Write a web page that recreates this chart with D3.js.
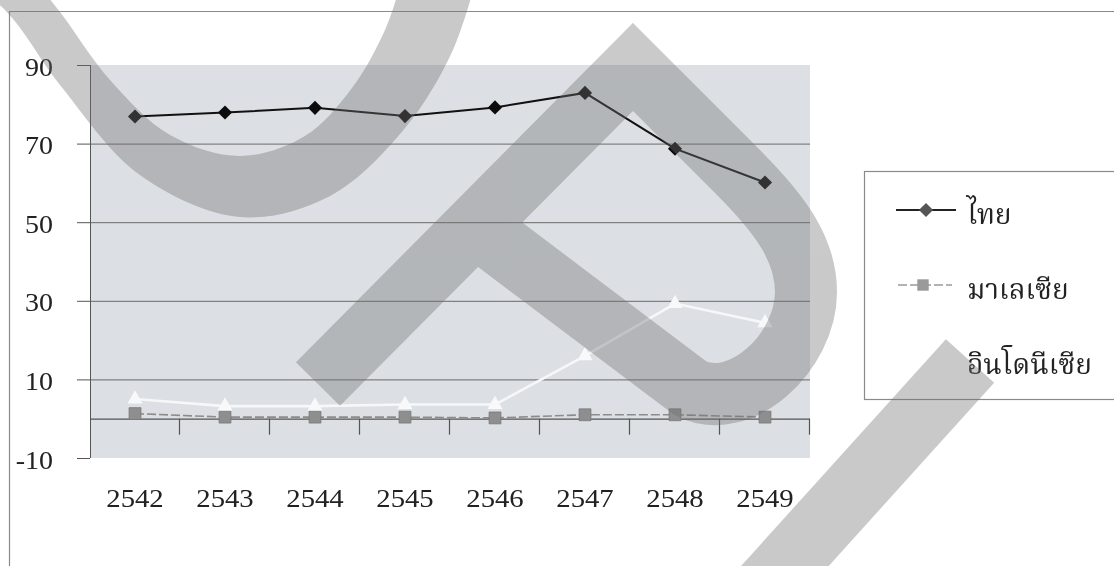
<!DOCTYPE html>
<html>
<head>
<meta charset="utf-8">
<script src="https://cdn.jsdelivr.net/npm/d3@7"></script>
<style>
  html, body { margin: 0; padding: 0; background: #fff; }
  svg { display: block; }
</style>
</head>
<body>
<svg id="chart" width="1114" height="566"></svg>
<script>
// Years (Buddhist era) on the category axis
const years = ["2542", "2543", "2544", "2545", "2546", "2547", "2548", "2549"];
// Series values
const thailand  = [76.9, 77.9, 79.1, 77.0, 79.2, 82.9, 68.7, 60.1];
const malaysia  = [1.3, 0.4, 0.4, 0.4, 0.2, 1.0, 1.0, 0.4];
const indonesia = [5.0, 3.2, 3.2, 3.6, 3.6, 16.0, 29.3, 24.4];
// Series names for the legend
const seriesNames = ["ไทย", "มาเลเซีย", "อินโดนีเซีย"];
// Value-axis tick labels
const yTicks = [-10, 10, 30, 50, 70, 90];
const gridTicks = [10, 30, 50, 70];

const NUM_FONT = '"Liberation Serif", Tinos, "Times New Roman", Times, "DejaVu Serif", "Noto Serif", serif';

// pick the first installed Thai face, preferring looped serif designs
function pickThaiFont() {
  const candidates = ["Norasi", "Kinnari", "Laksaman", "TH Sarabun New", "Angsana New", "Noto Serif Thai",
                      "Tlwg Typo", "Umpush", "Waree", "Loma", "Garuda", "Noto Sans Thai"];
  const ctx = document.createElement("canvas").getContext("2d");
  const sample = "อินโดนีเซีย มาเลเซีย ไทย";
  const widthWith = f => { ctx.font = "40px " + f; return ctx.measureText(sample).width; };
  const baseM = widthWith("monospace"), baseS = widthWith("serif");
  for (const c of candidates) {
    if (widthWith(`"${c}", monospace`) !== baseM || widthWith(`"${c}", serif`) !== baseS) return `"${c}", serif`;
  }
  return "serif";
}
const THAI_FONT = pickThaiFont();

const svg = d3.select("#chart");
const W = 1114, H = 566;

const x = d3.scaleBand().domain(years).range([90, 810]).padding(0);
const y = d3.scaleLinear().domain([-10, 90]).range([458, 65]);
const cx = d => x(d) + x.bandwidth() / 2;

// outer chart frame (left and top edges)
svg.append("path")
  .attr("d", `M9.5,${H} L9.5,11.5 L${W},11.5`)
  .attr("fill", "none").attr("stroke", "#8a8a8a").attr("stroke-width", 1.2);

// plot area background
svg.append("rect")
  .attr("x", x.range()[0]).attr("y", y(90))
  .attr("width", x.range()[1] - x.range()[0])
  .attr("height", y(-10) - y(90))
  .attr("fill", "#dcdfe3");

// horizontal gridlines
svg.append("g").selectAll("line").data(gridTicks).join("line")
  .attr("x1", x.range()[0]).attr("x2", x.range()[1])
  .attr("y1", d => y(d) + 0.5).attr("y2", d => y(d) + 0.5)
  .attr("stroke", "#6a6a6a").attr("stroke-width", 1);

// value axis
const yAxis = svg.append("g")
  .attr("transform", `translate(${x.range()[0]},0)`)
  .call(d3.axisLeft(y).tickValues(yTicks).tickSize(13).tickPadding(20).tickFormat(d => String(d)));
yAxis.select(".domain").attr("stroke", "#555").attr("d", `M0.5,${y(90)}V${y(-10)}`);
yAxis.selectAll(".tick line").attr("stroke", "#555");
yAxis.selectAll(".tick text")
  .style("font-family", NUM_FONT).style("font-size", "25px").attr("fill", "#222")
  .attr("dy", "0.40em")
  .attr("transform", "scale(1.12,1)");

// category axis line at zero with boundary tick marks
const axisY = y(0);
svg.append("line")
  .attr("x1", x.range()[0]).attr("x2", x.range()[1])
  .attr("y1", axisY + 0.5).attr("y2", axisY + 0.5)
  .attr("stroke", "#555").attr("stroke-width", 1.2);
const bounds = years.slice(1).map(d => x(d)).concat([x.range()[1]]);
svg.append("g").selectAll("line").data(bounds).join("line")
  .attr("x1", d => d - 0.5).attr("x2", d => d - 0.5)
  .attr("y1", axisY).attr("y2", axisY + 16)
  .attr("stroke", "#555").attr("stroke-width", 1.2);

// category labels below the plot
const xAxis = svg.append("g")
  .attr("transform", `translate(0,${y(-10)})`)
  .call(d3.axisBottom(x).tickSize(0).tickPadding(31));
xAxis.select(".domain").remove();
xAxis.selectAll(".tick text")
  .style("font-family", NUM_FONT).style("font-size", "25px").attr("fill", "#222")
  .attr("transform", "scale(1.15,1)");

// series
const line = d3.line().x(d => cx(d.year)).y(d => y(d.v));
const toPts = arr => years.map((yr, i) => ({ year: yr, v: arr[i] }));

// Malaysia
svg.append("path").datum(toPts(malaysia))
  .attr("d", line).attr("fill", "none")
  .attr("stroke", "#8c8c8c").attr("stroke-width", 1.6).attr("stroke-dasharray", "9,3");
svg.append("g").selectAll("path").data(toPts(malaysia)).join("path")
  .attr("d", d3.symbol(d3.symbolSquare, 140))
  .attr("transform", d => `translate(${cx(d.year)},${y(d.v)})`)
  .attr("fill", "#8e8e8e").attr("stroke", "#777").attr("stroke-width", 0.8);

// Indonesia
svg.append("path").datum(toPts(indonesia))
  .attr("d", line).attr("fill", "none")
  .attr("stroke", "#f6f7f9").attr("stroke-width", 2.6);
svg.append("g").selectAll("path").data(toPts(indonesia)).join("path")
  .attr("d", d3.symbol(d3.symbolTriangle, 100))
  .attr("transform", d => `translate(${cx(d.year)},${y(d.v)})`)
  .attr("fill", "#f8f9fa");

// Thailand
svg.append("path").datum(toPts(thailand))
  .attr("d", line).attr("fill", "none")
  .attr("stroke", "#111").attr("stroke-width", 2);
svg.append("g").selectAll("path").data(toPts(thailand)).join("path")
  .attr("d", d3.symbol(d3.symbolSquare, 100))
  .attr("transform", d => `translate(${cx(d.year)},${y(d.v)}) rotate(45)`)
  .attr("fill", "#0c0c0c");

// legend
const lg = svg.append("g");
lg.append("rect")
  .attr("x", 864.5).attr("y", 171.5).attr("width", 300).attr("height", 228)
  .attr("fill", "#fff").attr("stroke", "#8a8a8a").attr("stroke-width", 1.2);
const legendRows = [210, 285, 360];
const legendItems = seriesNames.map((name, i) => ({ name, ry: legendRows[i], i }));
const item = lg.selectAll("g.item").data(legendItems).join("g").attr("class", "item")
  .attr("transform", d => `translate(0,${d.ry})`);
item.filter(d => d.i === 0).call(g => {
  g.append("line").attr("x1", 896).attr("x2", 956).attr("y1", 0).attr("y2", 0)
    .attr("stroke", "#222").attr("stroke-width", 2);
  g.append("path").attr("d", d3.symbol(d3.symbolSquare, 100))
    .attr("transform", "translate(926,0) rotate(45)").attr("fill", "#555");
});
item.filter(d => d.i === 1).call(g => {
  g.append("line").attr("x1", 898).attr("x2", 952).attr("y1", 0).attr("y2", 0)
    .attr("stroke", "#9a9a9a").attr("stroke-width", 1.4).attr("stroke-dasharray", "9,3");
  g.append("path").attr("d", d3.symbol(d3.symbolSquare, 130))
    .attr("transform", "translate(923,0)").attr("fill", "#9a9a9a");
});
item.filter(d => d.i === 2).call(g => {
  g.append("line").attr("x1", 898).attr("x2", 952).attr("y1", 0).attr("y2", 0)
    .attr("stroke", "#fff").attr("stroke-width", 2);
});
item.append("text")
  .style("font-family", THAI_FONT).style("font-size", "28px").attr("fill", "#222")
  .attr("x", 967).attr("y", 14)
  .text(d => d.name);

// logo overlay shapes
const smooth = d3.line().curve(d3.curveCatmullRom.alpha(0.5));
const uOuter = [[-50, -30], [5, 10], [60, 85], [140, 175], [240, 217], [330, 196], [405, 128], [452, 52], [476, -20]];
const uInner = [[30, -25], [60, 12], [110, 80], [170, 135], [240, 156], [305, 136], [352, 88], [385, 30], [402, -20]];
const uPath = smooth(uOuter) + smooth(uInner.slice().reverse()).replace(/^M/, "L") + "Z";

const loop = d3.path();
loop.moveTo(318, 384);
loop.lineTo(633, 67);
loop.lineTo(738, 172);
loop.bezierCurveTo(778, 212, 806, 248, 806, 292);
loop.bezierCurveTo(806, 352, 740, 414, 690, 388);
loop.lineTo(478, 228);

function drawMark(g, color) {
  g.append("path").attr("d", uPath).attr("fill", color);
  g.append("path").attr("d", loop.toString())
    .attr("fill", "none").attr("stroke", color).attr("stroke-width", 62)
    .attr("stroke-linejoin", "miter").attr("stroke-miterlimit", 10).attr("stroke-linecap", "butt");
  g.append("line")
    .attr("x1", 970).attr("y1", 361).attr("x2", 700).attr("y2", 660)
    .attr("stroke", color).attr("stroke-width", 65).attr("stroke-linecap", "butt");
}
// darkening layer, then a light veil that greys out what lies beneath
drawMark(svg.append("g").style("mix-blend-mode", "multiply"), "#c8c8c8");
drawMark(svg.append("g").attr("opacity", 0.2), "#d0d0d0");
</script>
</body>
</html>
